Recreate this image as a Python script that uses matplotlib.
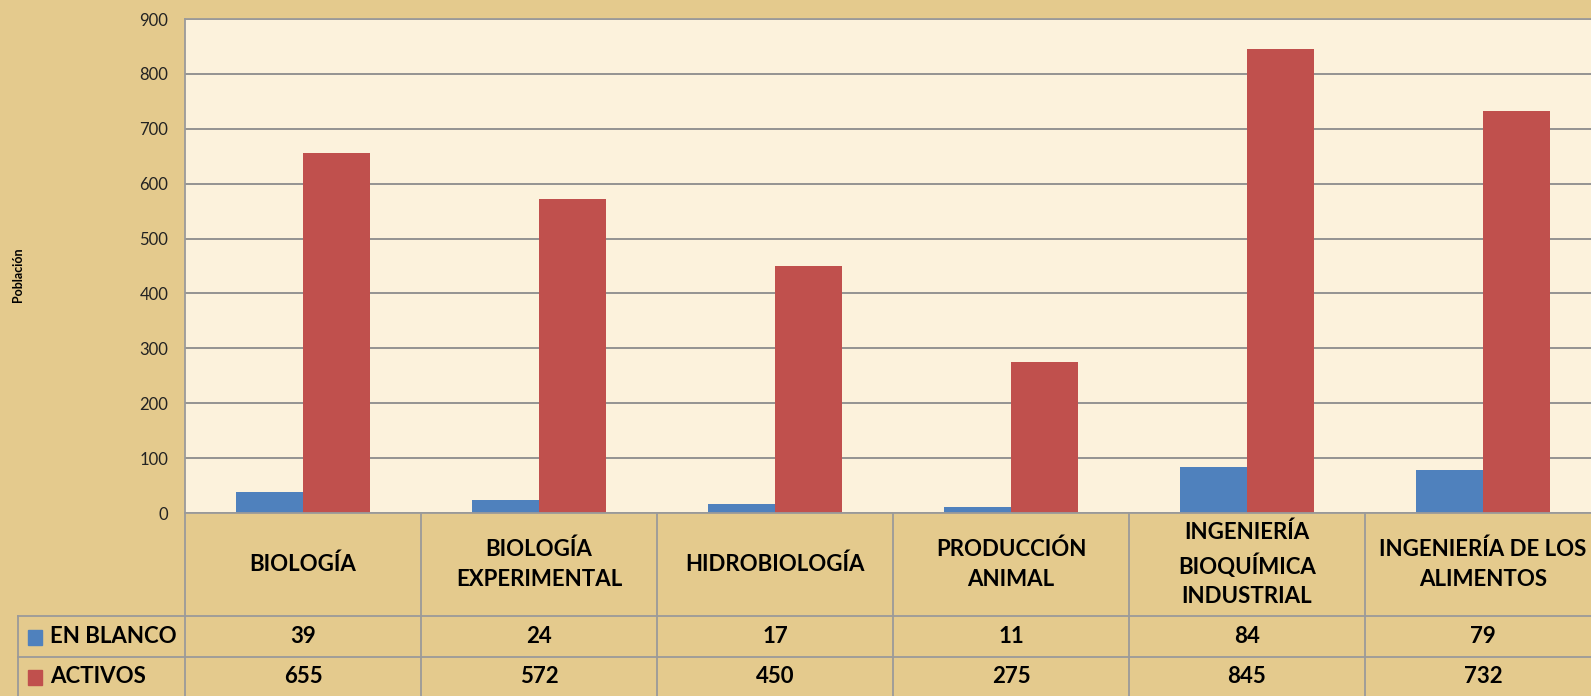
import numpy as np
import matplotlib.pyplot as plt

# ============================
# DATOS
# ============================
carreras = ["BIOLOGÍA", "BIOLOGÍA\nEXPERIMENTAL", "HIDROBIOLOGÍA",
            "PRODUCCIÓN\nANIMAL", "INGENIERÍA\nBIOQUÍMICA\nINDUSTRIAL",
            "INGENIERÍA DE LOS\nALIMENTOS"]
en_blanco = [39, 24, 17, 11, 84, 79]
activos = [655, 572, 450, 275, 845, 732]
series = ["EN BLANCO", "ACTIVOS"]
colores = ["#4F81BD", "#C0504D"]
yticks = [0, 100, 200, 300, 400, 500, 600, 700, 800, 900]

# ============================
# FIGURA (pixeles)
# ============================
W, H = 1591, 696
fondo = "#E4CA8D"
fondo_area = "#FCF2DC"
linea = "#9A9A9A"
plt.rcParams['font.family'] = ['Lato', 'DejaVu Sans']

fig = plt.figure(figsize=(W / 100, H / 100), dpi=100, facecolor=fondo)

x0, x1 = 185, 1601      # plot area (se sale por la derecha)
y_top, y_zero = 19, 513
ax = fig.add_axes([x0 / W, (H - y_zero) / H, (x1 - x0) / W, (y_zero - y_top) / H])
ax.set_facecolor(fondo_area)

x = np.arange(len(carreras))
ancho = 1 / 3.5
ax.bar(x - ancho / 2, en_blanco, ancho, color=colores[0], zorder=3)
ax.bar(x + ancho / 2, activos, ancho, color=colores[1], zorder=3)

ax.set_xlim(-0.5, len(carreras) - 0.5)
ax.set_ylim(0, 900)
ax.set_yticks(yticks)
ax.set_xticks([])
ax.tick_params(axis="y", length=0, pad=12, labelsize=12, labelcolor="#222222")
ax.grid(axis="y", color="#8C8C8C", linewidth=1.3, zorder=1)
for s in ["top", "left"]:
    ax.spines[s].set_color(linea)
    ax.spines[s].set_linewidth(1.3)
ax.spines["bottom"].set_visible(False)
ax.spines["right"].set_visible(False)

fig.text(18 / W, (H - 275) / H, "Población", rotation=90, fontsize=9,
         fontweight="bold", ha="center", va="center")

# ============================
# TABLA DE DATOS
# ============================
tb = fig.add_axes([x0 / W, 0, (x1 - x0) / W, (H - y_zero) / H])
tb.set_xlim(-0.5, len(carreras) - 0.5)
tb.set_ylim(H - y_zero, 0)
tb.axis("off")

cat_px = (x1 - x0) / len(carreras)
x_ley = -0.5 - (x0 - 18) / cat_px
r1, r2, r3 = 103, 144, 183

kw = dict(color=linea, linewidth=1.3, clip_on=False)
tb.plot([-0.5, len(carreras) - 0.5], [0, 0], **kw)
tb.plot([x_ley, len(carreras) - 0.5], [r1, r1], **kw)
tb.plot([x_ley, len(carreras) - 0.5], [r2, r2], **kw)
tb.plot([x_ley, x_ley], [r1, r3], **kw)
for i in range(len(carreras) + 1):
    tb.plot([i - 0.5, i - 0.5], [0, r3], **kw)

fs = 16
for i, nombre in enumerate(carreras):
    tb.text(i, r1 / 2, nombre, ha="center", va="center", fontsize=fs,
            fontweight="bold", linespacing=1.5, clip_on=False)
    tb.text(i, (r1 + r2) / 2, str(en_blanco[i]), ha="center", va="center",
            fontsize=fs, fontweight="bold")
    tb.text(i, (r2 + r3) / 2, str(activos[i]), ha="center", va="center",
            fontsize=fs, fontweight="bold")

for k, (nombre, c, (ya, yb)) in enumerate(zip(series, colores, [(r1, r2), (r2, r3)])):
    ym = (ya + yb) / 2
    tb.add_patch(plt.Rectangle((x_ley + 10 / cat_px, ym - 7), 14 / cat_px, 15,
                               color=c, clip_on=False))
    tb.text(x_ley + 32 / cat_px, ym, nombre, ha="left", va="center",
            fontsize=fs, fontweight="bold", clip_on=False)

fig.savefig("out.png", dpi=100, facecolor=fondo)
